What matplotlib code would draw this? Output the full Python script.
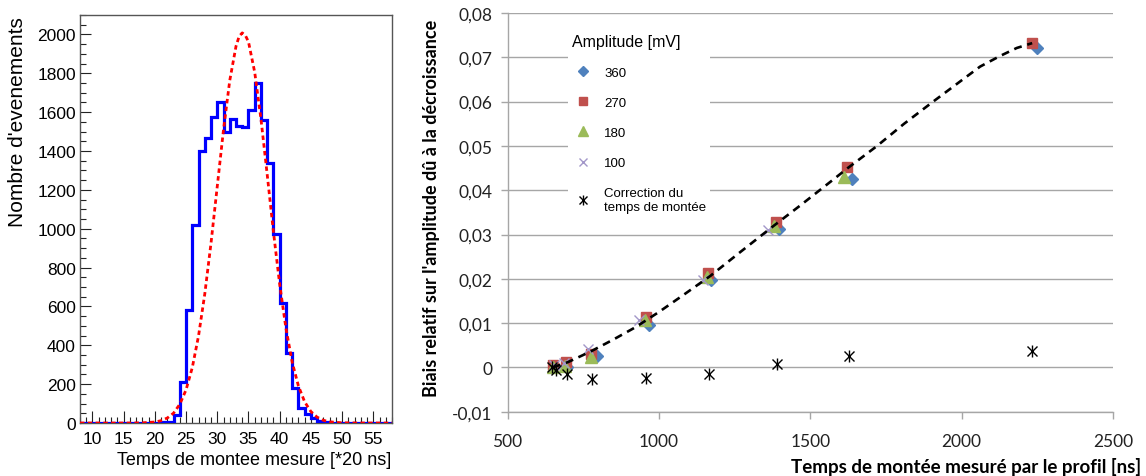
import numpy as np
import matplotlib
matplotlib.use("Agg")
import matplotlib.pyplot as plt
from matplotlib.ticker import MultipleLocator, FuncFormatter

# ---------------- Left panel data: histogram of measured rise time ----------------
hist_edges = np.arange(8, 59, 1)
hist_counts = [0, 0, 0, 0, 0, 0, 0, 0, 0, 0,      # 8-18
               0, 0, 1, 3, 6, 41, 210, 582, 1020, 1400,   # 18-28
               1467, 1576, 1653, 1497, 1566, 1531, 1525, 1610, 1751, 1562,  # 28-38
               1336, 975, 620, 362, 178, 78, 48, 28, 12, 5,   # 38-48
               2, 0, 0, 0, 0, 0, 0, 0, 0, 0]     # 48-58

fit_x = [8, 12, 16, 18, 20, 21, 22, 23, 24, 25, 26, 27, 28, 29, 30, 31, 32, 33,
         33.5, 34, 34.5, 35, 36, 37, 38, 39, 40, 41, 42, 43, 44, 45, 46, 47, 48,
         50, 54, 58]
fit_y = [0, 0, 0, 1, 5, 12, 26, 51, 97, 171, 286, 449, 665, 927, 1219, 1510,
         1763, 1939, 1990, 2008, 1995, 1962, 1805, 1565, 1279, 984, 714, 488, 314,
         191, 109, 59, 30, 14, 6, 1, 0, 0]

left_xticks = [10, 15, 20, 25, 30, 35, 40, 45, 50, 55]
left_yticks = [0, 200, 400, 600, 800, 1000, 1200, 1400, 1600, 1800, 2000]

# ---------------- Right panel data: relative bias vs rise time ----------------
x360 = [652, 695, 795, 967, 1173, 1397, 1637, 2249]
y360 = [0.0000, 0.0000, 0.0025, 0.0096, 0.0198, 0.0313, 0.0426, 0.0722]
x270 = [649, 693, 775, 956, 1162, 1388, 1621, 2233]
y270 = [0.0005, 0.0013, 0.0031, 0.0114, 0.0212, 0.0328, 0.0452, 0.0732]
x180 = [650, 690, 775, 953, 1159, 1379, 1613]
y180 = [0.0000, 0.0003, 0.0024, 0.0106, 0.0204, 0.0319, 0.0429]
x100 = [655, 688, 767, 936, 1145, 1361]
y100 = [0.0005, 0.0010, 0.0042, 0.0108, 0.0198, 0.0311]
xcorr = [648, 660, 695, 778, 957, 1165, 1389, 1629, 2232]
ycorr = [0.0000, -0.0005, -0.0016, -0.0027, -0.0024, -0.0014, 0.0008, 0.0026, 0.0037]

trend_x = [650, 700, 775, 850, 921, 1000, 1080, 1169, 1270, 1378, 1466, 1576,
           1624, 1719, 1810, 1906, 2000, 2061, 2127, 2182, 2233]
trend_y = [0.0000, 0.0012, 0.0036, 0.0063, 0.0090, 0.0125, 0.0163, 0.0206,
           0.0261, 0.0319, 0.0365, 0.0424, 0.0450, 0.0499, 0.0550, 0.0600,
           0.0648, 0.0679, 0.0703, 0.0721, 0.0732]

right_xticks = [500, 1000, 1500, 2000, 2500]
right_yticks = [-0.01, 0, 0.01, 0.02, 0.03, 0.04, 0.05, 0.06, 0.07, 0.08]

series_labels = ["360", "270", "180", "100", "Correction du\ntemps de montée"]

# ---------------- Figure ----------------
W, H = 1146, 477
fig = plt.figure(figsize=(W / 100, H / 100), dpi=100)

ROOT_FONT = "Liberation Sans"
XL_FONT = "Lato"

# ---- Left axes (ROOT style) ----
axL = fig.add_axes([80 / W, 1 - 424 / H, 312 / W, 408 / H])
axL.stairs(hist_counts, hist_edges, color="#0000ff", lw=2.3, zorder=3)
axL.plot(fit_x, fit_y, color="#ff0000", lw=2.0, linestyle=(0, (1.6, 1.2)), zorder=4)
axL.set_xlim(8, 58)
axL.set_ylim(0, 2100)
axL.set_xticks(left_xticks)
axL.set_yticks(left_yticks)
axL.xaxis.set_minor_locator(MultipleLocator(1))
axL.yaxis.set_minor_locator(MultipleLocator(50))
axL.tick_params(axis="both", which="both", direction="in", colors="#222222",
                top=False, right=False, width=0.8)
axL.tick_params(axis="x", which="major", length=9, pad=6, labelsize=12.5)
axL.tick_params(axis="x", which="minor", length=4.5)
axL.tick_params(axis="y", which="major", length=8, pad=3, labelsize=12.5)
axL.tick_params(axis="y", which="minor", length=4)
for lab in axL.get_xticklabels() + axL.get_yticklabels():
    lab.set_fontfamily(ROOT_FONT)
    lab.set_color("black")
for sp in axL.spines.values():
    sp.set_color("#555555")
    sp.set_linewidth(1.0)
fig.text(18 / W, 1 - 17 / H, "Nombre d'evenements", rotation=90, ha="center",
         va="top", fontsize=15, family=ROOT_FONT)
fig.text(391 / W, 1 - 461 / H, "Temps de montee mesure [*20 ns]", ha="right",
         va="center", fontsize=13, family=ROOT_FONT)

# ---- Right axes (Excel style) ----
axR = fig.add_axes([507.5 / W, 1 - 412.7 / H, 605.5 / W, 398.7 / H])
axR.set_xlim(500, 2500)
axR.set_ylim(-0.01, 0.08)
axR.set_xticks(right_xticks)
axR.set_yticks(right_yticks)
axR.grid(axis="y", color="#a6a6a6", lw=1.0, zorder=0)
axR.set_axisbelow(True)
for s in ["top", "right"]:
    axR.spines[s].set_visible(False)
for s in ["left", "bottom"]:
    axR.spines[s].set_color("#a6a6a6")
    axR.spines[s].set_linewidth(1.0)
axR.tick_params(axis="both", direction="out", color="#a6a6a6", length=5,
                width=1.0, labelsize=12.5, labelcolor="#222222")
axR.tick_params(axis="x", pad=10)
axR.tick_params(axis="y", pad=6)


def comma_fmt(v, pos):
    if abs(v) < 1e-12:
        return "0"
    return ("%.2f" % v).replace(".", ",")


axR.yaxis.set_major_formatter(FuncFormatter(comma_fmt))
for lab in axR.get_xticklabels() + axR.get_yticklabels():
    lab.set_fontfamily(XL_FONT)

h360, = axR.plot(x360, y360, linestyle="none", marker="D", ms=6,
                 color="#4f81bd", zorder=3)
h270, = axR.plot(x270, y270, linestyle="none", marker="s", ms=7.5,
                 color="#c0504d", zorder=4)
h180, = axR.plot(x180, y180, linestyle="none", marker="^", ms=8,
                 color="#9bbb59", zorder=5)
h100, = axR.plot(x100, y100, linestyle="none", marker="x", ms=7.5, mew=1.0,
                 color="#a397c9", zorder=6)
hcx, = axR.plot(xcorr, ycorr, linestyle="none", marker="x", ms=6.5,
                mew=1.0, color="black", zorder=7)
hcv, = axR.plot(xcorr, ycorr, linestyle="none", marker="|", ms=8.5,
                mew=1.0, color="black", zorder=7)
axR.plot(trend_x, trend_y, color="black", lw=1.9, linestyle=(0, (3, 2.2)),
         zorder=8)

leg = axR.legend([h360, h270, h180, h100, (hcx, hcv)], series_labels,
                 title="Amplitude [mV]", alignment="left",
                 loc="upper left", bbox_to_anchor=(568 / W, 1 - 31 / H),
                 bbox_transform=fig.transFigure, frameon=True, fancybox=False,
                 facecolor="white", edgecolor="none", framealpha=1.0,
                 borderaxespad=0, borderpad=0.3, labelspacing=1.35,
                 handlelength=1.6, handletextpad=0.85, markerscale=0.85,
                 prop={"family": ROOT_FONT, "size": 9.5},
                 title_fontproperties={"family": ROOT_FONT, "size": 11.5})
leg.set_zorder(10)

fig.text(431 / W, 1 - 208 / H,
         "Biais relatif sur l'amplitude dû à la décroissance", rotation=90,
         ha="center", va="center", fontsize=13, fontweight="bold", family=XL_FONT)
fig.text(1141 / W, 1 - 467 / H, "Temps de montée mesuré par le profil [ns]",
         ha="right", va="center", fontsize=13.5, fontweight="bold", family=XL_FONT)

fig.savefig("out.png", dpi=100)
